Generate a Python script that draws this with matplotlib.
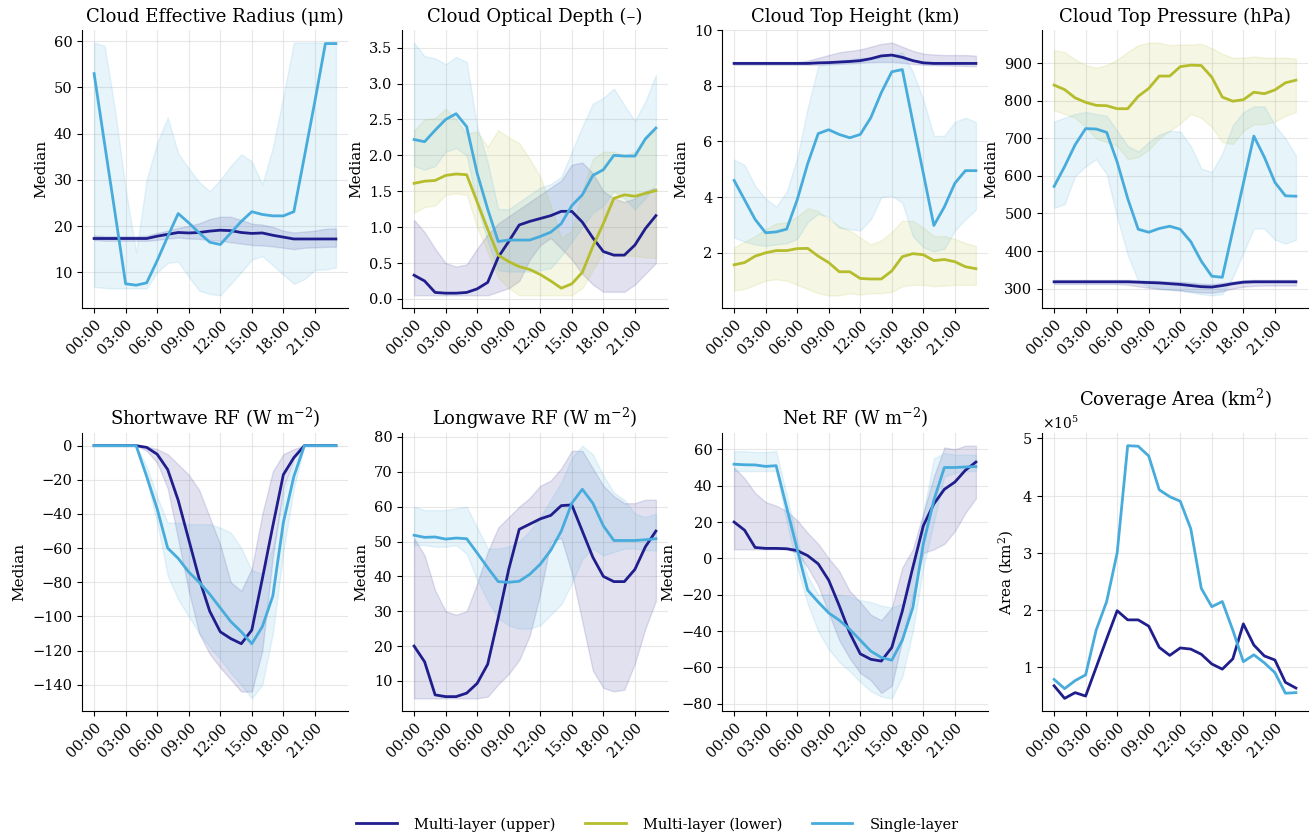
import numpy as np
import matplotlib
matplotlib.use("Agg")
import matplotlib.pyplot as plt
from matplotlib.ticker import ScalarFormatter

plt.rcParams['font.family'] = 'DejaVu Serif'
plt.rcParams['mathtext.fontset'] = 'dejavuserif'

hours = np.arange(24)
tick_hours = [0, 3, 6, 9, 12, 15, 18, 21]
tick_labels = ['%02d:00' % h for h in tick_hours]

c_up = '#201e8c'
c_low = '#b5bd2d'
c_single = '#47acdc'

# ---- Cloud effective radius (um)
cer_up = [17.3, 17.3, 17.3, 17.3, 17.3, 17.3, 17.8, 18.2, 18.6, 18.5, 18.6, 18.9,
          19.1, 19.0, 18.6, 18.4, 18.5, 18.0, 17.6, 17.2, 17.2, 17.2, 17.2, 17.2]
cer_up_hi = [18.0, 17.8, 17.8, 17.8, 17.8, 17.9, 18.5, 19.0, 19.6, 20.0, 20.6, 21.5,
             22.0, 22.0, 21.3, 20.5, 20.3, 19.8, 19.0, 18.6, 18.8, 19.0, 19.4, 19.5]
cer_up_lo = [17.0, 16.8, 16.8, 16.8, 16.8, 16.8, 17.0, 17.3, 17.5, 17.3, 17.2, 17.0,
             16.8, 16.5, 16.2, 15.9, 15.8, 15.6, 15.3, 15.0, 15.3, 15.4, 15.5, 15.5]
cer_single = [53.0, 37.8, 22.7, 7.5, 7.2, 7.7, 12.5, 17.7, 22.7, 20.7, 18.5, 16.5,
              16.0, 18.5, 21.0, 23.1, 22.5, 22.2, 22.2, 23.1, 35.0, 47.0, 59.5, 59.5]
cer_single_hi = [59.7, 59.0, 45.0, 28.0, 14.3, 30.0, 38.0, 43.5, 35.7, 32.5, 29.5, 27.5,
                 30.0, 33.0, 35.5, 34.0, 29.0, 37.0, 48.0, 59.7, 59.7, 59.7, 59.7, 59.7]
cer_single_lo = [6.8, 6.6, 6.5, 6.5, 6.5, 6.5, 10.0, 12.0, 12.3, 9.0, 6.0, 5.3,
                 5.0, 7.5, 10.0, 12.7, 13.5, 11.5, 9.5, 7.5, 8.5, 10.5, 10.6, 11.0]

# ---- Cloud optical depth
cod_up = [0.33, 0.25, 0.09, 0.08, 0.08, 0.09, 0.14, 0.23, 0.58, 0.80, 1.03, 1.08,
          1.12, 1.16, 1.22, 1.22, 1.07, 0.85, 0.66, 0.61, 0.61, 0.75, 0.98, 1.16]
cod_up_hi = [1.10, 0.93, 0.70, 0.50, 0.45, 0.48, 0.70, 0.90, 1.05, 1.15, 1.25, 1.35,
             1.45, 1.55, 1.65, 1.87, 1.90, 1.75, 1.50, 1.40, 1.35, 1.40, 1.50, 1.55]
cod_up_lo = [0.05, 0.05, 0.05, 0.05, 0.05, 0.05, 0.05, 0.05, 0.10, 0.15, 0.25, 0.55,
             0.75, 0.85, 0.70, 0.55, 0.35, 0.20, 0.10, 0.10, 0.10, 0.20, 0.35, 0.50]
cod_low = [1.61, 1.64, 1.65, 1.72, 1.74, 1.73, 1.35, 0.97, 0.61, 0.52, 0.45, 0.41,
           0.34, 0.25, 0.15, 0.21, 0.37, 0.73, 1.05, 1.40, 1.45, 1.43, 1.47, 1.51]
cod_low_hi = [2.35, 2.50, 2.52, 2.65, 2.50, 2.30, 2.33, 2.12, 2.35, 2.25, 2.17, 1.95,
              1.70, 1.30, 0.85, 0.95, 1.50, 1.95, 2.05, 2.05, 2.00, 2.05, 2.25, 2.35]
cod_low_lo = [1.20, 1.28, 1.30, 1.45, 1.47, 1.45, 1.00, 0.65, 0.30, 0.15, 0.05, 0.05,
              0.05, 0.05, 0.05, 0.05, 0.15, 0.40, 0.65, 0.60, 0.60, 0.60, 0.58, 0.57]
cod_single = [2.22, 2.19, 2.35, 2.50, 2.58, 2.40, 1.75, 1.25, 0.80, 0.82, 0.82, 0.82,
              0.87, 0.93, 1.05, 1.30, 1.45, 1.72, 1.80, 2.00, 1.99, 1.99, 2.23, 2.38]
cod_single_hi = [3.57, 3.38, 3.35, 3.27, 3.37, 3.30, 2.40, 1.90, 1.25, 1.25, 1.35, 1.45,
                 1.55, 1.60, 1.70, 2.05, 2.40, 2.72, 2.80, 2.93, 2.70, 2.48, 2.75, 3.12]
cod_single_lo = [1.85, 1.80, 1.85, 2.05, 2.10, 2.00, 1.30, 0.80, 0.40, 0.38, 0.38, 0.38,
                 0.40, 0.43, 0.60, 0.80, 1.00, 1.20, 1.30, 1.50, 1.40, 1.25, 1.40, 1.60]

# ---- Cloud top height (km)
cth_up = [8.8, 8.8, 8.8, 8.8, 8.8, 8.8, 8.8, 8.8, 8.82, 8.83, 8.85, 8.87,
          8.9, 8.97, 9.07, 9.1, 9.02, 8.9, 8.82, 8.8, 8.8, 8.8, 8.8, 8.8]
cth_up_hi = [8.85, 8.85, 8.85, 8.85, 8.85, 8.85, 8.85, 8.9, 9.0, 9.1, 9.2, 9.25,
             9.3, 9.4, 9.5, 9.55, 9.4, 9.25, 9.15, 9.12, 9.1, 9.1, 9.1, 9.08]
cth_up_lo = [8.75, 8.75, 8.75, 8.75, 8.75, 8.75, 8.75, 8.75, 8.75, 8.77, 8.78, 8.8,
             8.82, 8.84, 8.85, 8.85, 8.82, 8.78, 8.75, 8.74, 8.73, 8.72, 8.71, 8.7]
cth_low = [1.57, 1.65, 1.88, 2.0, 2.08, 2.08, 2.15, 2.16, 1.88, 1.65, 1.32, 1.32,
           1.08, 1.06, 1.06, 1.35, 1.86, 1.97, 1.93, 1.72, 1.76, 1.68, 1.5, 1.43]
cth_low_hi = [2.2, 2.4, 2.6, 2.85, 3.05, 3.1, 3.3, 3.6, 3.5, 3.2, 2.95, 2.8,
              2.55, 2.3, 2.45, 2.75, 3.15, 3.15, 2.9, 2.6, 2.6, 2.5, 2.35, 2.25]
cth_low_lo = [0.65, 0.7, 0.85, 1.0, 1.05, 1.0, 0.85, 0.7, 0.55, 0.47, 0.47, 0.55,
              0.5, 0.55, 0.55, 0.6, 0.8, 0.85, 0.85, 0.8, 0.82, 0.85, 0.85, 0.85]
cth_single = [4.6, 3.9, 3.2, 2.72, 2.75, 2.85, 3.9, 5.2, 6.28, 6.42, 6.25, 6.13,
              6.25, 6.85, 7.75, 8.5, 8.58, 6.7, 4.85, 2.98, 3.65, 4.5, 4.95, 4.95]
cth_single_hi = [5.35, 5.15, 4.4, 3.95, 3.65, 4.2, 5.4, 7.2, 8.7, 8.8, 8.9, 8.95,
                 9.0, 9.0, 9.0, 9.1, 9.2, 8.5, 7.5, 6.2, 6.2, 6.7, 6.85, 6.7]
cth_single_lo = [2.55, 2.4, 2.3, 2.25, 2.3, 2.35, 2.5, 3.1, 3.4, 3.3, 2.9, 2.85,
                 2.8, 3.2, 4.0, 4.05, 3.8, 2.6, 2.2, 2.05, 2.15, 2.8, 3.2, 3.55]

# ---- Cloud top pressure (hPa)
ctp_up = [318, 318, 318, 318, 318, 318, 318, 318, 317, 316, 315, 313,
          311, 308, 305, 304, 308, 313, 317, 318, 318, 318, 318, 318]
ctp_up_hi = [323, 323, 323, 323, 323, 323, 323, 323, 322, 321, 320, 319,
             318, 316, 313, 312, 315, 319, 322, 323, 323, 323, 323, 323]
ctp_up_lo = [312, 312, 312, 312, 312, 312, 312, 310, 306, 302, 299, 297,
             295, 292, 290, 289, 293, 300, 305, 307, 308, 308, 308, 308]
ctp_low = [842, 830, 808, 796, 788, 787, 779, 779, 812, 833, 866, 866,
           891, 895, 894, 863, 810, 799, 803, 823, 819, 829, 848, 855]
ctp_low_hi = [935, 930, 910, 895, 888, 895, 910, 930, 948, 955, 955, 948,
              950, 950, 952, 940, 925, 915, 915, 918, 915, 915, 915, 912]
ctp_low_lo = [775, 765, 755, 730, 700, 690, 680, 645, 650, 670, 700, 720,
              740, 765, 755, 730, 690, 685, 720, 738, 738, 745, 760, 770]
ctp_single = [572, 625, 683, 726, 725, 716, 637, 540, 458, 450, 460, 466,
              458, 425, 373, 333, 330, 455, 580, 706, 650, 583, 547, 546]
ctp_single_hi = [745, 755, 765, 770, 765, 760, 720, 680, 665, 690, 710, 720,
                 718, 680, 620, 610, 660, 735, 770, 785, 785, 735, 700, 655]
ctp_single_lo = [515, 525, 600, 625, 645, 605, 490, 390, 320, 305, 300, 297,
                 295, 290, 285, 282, 285, 330, 395, 460, 460, 430, 420, 430]

# ---- Shortwave RF (W m-2)
sw_up = [0, 0, 0, 0, 0, -1, -5, -14, -32, -55, -78, -97,
         -109, -113, -116, -108, -78, -47, -17, -7, 0, 0, 0, 0]
sw_up_hi = [0, 0, 0, 0, 0, -0.5, -2, -5, -11, -17, -26, -42,
            -58, -80, -85, -72, -40, -15, -5, -2, 0, 0, 0, 0]
sw_up_lo = [0, 0, 0, 0, 0, -3, -10, -25, -55, -85, -110, -122,
            -130, -137, -144, -144, -120, -65, -25, -8, 0, 0, 0, 0]
sw_single = [0, 0, 0, 0, 0, -18, -37, -60, -66, -74, -80, -87,
             -95, -103, -109, -116, -106, -88, -45, -18, 0, 0, 0, 0]
sw_single_hi = [0, 0, 0, 0, 0, -12, -30, -45, -45, -46, -46, -46,
                -48, -51, -60, -73, -75, -60, -28, -10, 0, 0, 0, 0]
sw_single_lo = [0, 0, 0, 0, 0, -20, -45, -76, -90, -100, -110, -118,
                -125, -133, -140, -148, -140, -110, -62, -25, 0, 0, 0, 0]

# ---- Longwave RF (W m-2)
lw_up = [20, 15.5, 6, 5.5, 5.5, 6.5, 9.3, 14.8, 28, 42, 53.5, 55,
         56.5, 57.5, 60.3, 60.5, 53, 45.5, 40, 38.5, 38.5, 42, 48.5, 53]
lw_up_hi = [51, 46, 36, 30, 29, 30, 38, 47, 54, 57, 60, 62.5,
            66, 67.5, 71, 76, 76, 71, 66, 63, 61, 61, 62, 62]
lw_up_lo = [5, 5, 5, 5, 5, 5, 5, 5.5, 9, 12, 16, 23,
            35, 50, 51, 41, 27, 13, 8, 7, 7.5, 15, 25, 33]
lw_single = [51.8, 51.2, 51.3, 50.7, 51, 50.8, 46.7, 42.5, 38.5, 38.3, 38.6, 40.6,
             43.5, 47.5, 53, 61, 65, 61, 54.5, 50.3, 50.3, 50.3, 50.5, 50.8]
lw_single_hi = [60, 59, 59, 59, 59.5, 60, 54, 48, 48, 48.5, 50, 53,
                57, 62, 67, 74, 77.5, 75, 69, 64, 62, 58, 57, 58]
lw_single_lo = [49, 49, 48.5, 48.5, 49, 46.5, 39, 33, 28, 26, 25, 25,
                26, 29, 32, 38, 45, 48, 46, 47, 48, 48, 47.5, 47.5]

# ---- Net RF (W m-2)
net_up = [20, 15.5, 6, 5.5, 5.5, 5.3, 4.3, 1.5, -3, -12, -26, -41,
          -52.5, -55.5, -56.5, -49, -29, -5, 18, 30, 38, 42, 48.5, 53]
net_up_hi = [50, 44, 36, 31, 29, 26, 21, 14, 8, 0, -7, -18,
             -24, -31, -34, -27, -5, 5, 25, 45, 61, 60, 62, 62]
net_up_lo = [5, 5, 5, 5, 5, 5, 3, -5, -15, -30, -45, -55,
             -63, -67, -74, -70, -45, -20, 3, 5, 8, 15, 25, 33]
net_single = [51.8, 51.5, 51.4, 50.6, 51, 28, 5, -17.5, -24, -30, -34, -39,
              -45, -51, -54.5, -56, -45, -27, 8, 32, 50, 50, 50.3, 50.5]
net_single_hi = [59, 59, 58.5, 58.5, 59, 35, 10, -10, -20, -20, -20, -21,
                 -23, -24, -26, -27, -25, -10, 25, 55, 58, 57, 57, 57]
net_single_lo = [48, 48, 48, 48, 48, 20, -5, -25, -40, -50, -57, -62,
                 -68, -73, -76, -77, -65, -40, -5, 20, 45, 47, 48, 48]

# ---- Coverage area (km2)
area_up = [0.68, 0.46, 0.56, 0.50, 1.00, 1.50, 1.99, 1.83, 1.83, 1.72, 1.35, 1.21,
           1.34, 1.32, 1.23, 1.06, 0.97, 1.15, 1.76, 1.39, 1.20, 1.13, 0.74, 0.64]
area_single = [0.79, 0.63, 0.77, 0.87, 1.65, 2.15, 3.00, 4.87, 4.86, 4.69, 4.10, 3.98,
               3.90, 3.42, 2.38, 2.06, 2.15, 1.65, 1.10, 1.22, 1.08, 0.91, 0.55, 0.56]
area_up = np.array(area_up) * 1e5
area_single = np.array(area_single) * 1e5

fig, axes = plt.subplots(2, 4, figsize=(13.15, 8.38), dpi=100)
fig.subplots_adjust(left=82/1315, right=1308/1315, top=1-30/838, bottom=1-711/838,
                    wspace=0.203, hspace=0.45)


def band(ax, med, lo, hi, color):
    ax.fill_between(hours, lo, hi, color=color, alpha=0.13, linewidth=1)
    ax.plot(hours, med, color=color, lw=2)


panels = [
    ('Cloud Effective Radius (μm)', [(cer_up, cer_up_lo, cer_up_hi, c_up),
                                      (cer_single, cer_single_lo, cer_single_hi, c_single)]),
    ('Cloud Optical Depth (–)', [(cod_up, cod_up_lo, cod_up_hi, c_up),
                                 (cod_low, cod_low_lo, cod_low_hi, c_low),
                                 (cod_single, cod_single_lo, cod_single_hi, c_single)]),
    ('Cloud Top Height (km)', [(cth_up, cth_up_lo, cth_up_hi, c_up),
                               (cth_low, cth_low_lo, cth_low_hi, c_low),
                               (cth_single, cth_single_lo, cth_single_hi, c_single)]),
    ('Cloud Top Pressure (hPa)', [(ctp_up, ctp_up_lo, ctp_up_hi, c_up),
                                  (ctp_low, ctp_low_lo, ctp_low_hi, c_low),
                                  (ctp_single, ctp_single_lo, ctp_single_hi, c_single)]),
    ('Shortwave RF (W m$^{-2}$)', [(sw_up, sw_up_lo, sw_up_hi, c_up),
                                   (sw_single, sw_single_lo, sw_single_hi, c_single)]),
    ('Longwave RF (W m$^{-2}$)', [(lw_up, lw_up_lo, lw_up_hi, c_up),
                                  (lw_single, lw_single_lo, lw_single_hi, c_single)]),
    ('Net RF (W m$^{-2}$)', [(net_up, net_up_lo, net_up_hi, c_up),
                             (net_single, net_single_lo, net_single_hi, c_single)]),
]

for ax, (title, series) in zip(axes.flat[:7], panels):
    for med, lo, hi, col in series:
        band(ax, med, lo, hi, col)
    ax.set_title(title, fontsize=13)
    ax.set_ylabel('Median', fontsize=11)

axes[0, 2].set_ylim(0.02, 10.0)

ax = axes[1, 3]
ax.plot(hours, area_up, color=c_up, lw=2)
ax.plot(hours, area_single, color=c_single, lw=2)
ax.set_title('Coverage Area (km$^2$)', fontsize=13)
ax.set_ylabel('Area (km$^2$)', fontsize=11)
fmt = ScalarFormatter(useMathText=True)
fmt.set_powerlimits((0, 0))
ax.yaxis.set_major_formatter(fmt)

for ax in axes.flat:
    ax.set_xticks(tick_hours)
    ax.set_xticklabels(tick_labels, rotation=45, ha='right', rotation_mode='anchor')
    ax.tick_params(labelsize=10.5)
    ax.grid(True, color='#dddddd', linewidth=0.8, alpha=0.7)
    ax.set_axisbelow(True)
    ax.spines['top'].set_visible(False)
    ax.spines['right'].set_visible(False)

handles = [plt.Line2D([], [], color=c, lw=2) for c in (c_up, c_low, c_single)]
fig.legend(handles, ['Multi-layer (upper)', 'Multi-layer (lower)', 'Single-layer'],
           loc='lower center', ncol=3, frameon=False, fontsize=10.5,
           handlelength=2.8, handletextpad=1.2, columnspacing=2.0,
           bbox_to_anchor=(0.5, -0.008))

fig.savefig('out.png', dpi=100)
